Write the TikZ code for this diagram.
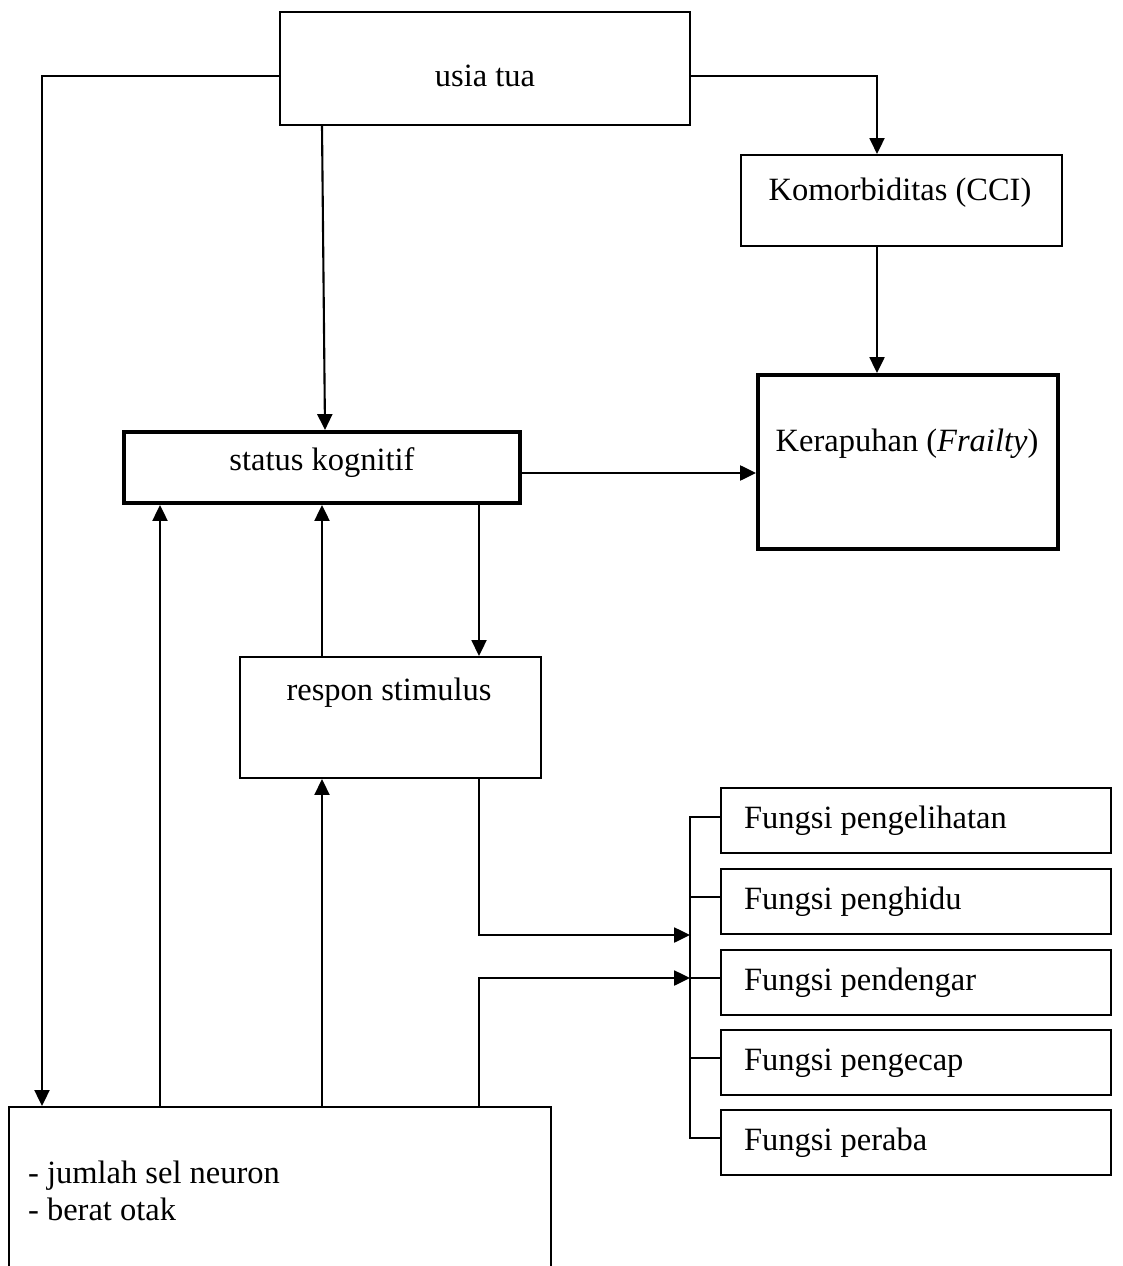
\documentclass[tikz,border=0pt]{standalone}
\usepackage{fontspec}
\setmainfont{Liberation Serif}
\usetikzlibrary{arrows.meta}

\begin{document}
\begin{tikzpicture}[x=0.02cm,y=-0.02cm,line width=1.2pt,
  box/.style={draw=black,inner sep=0pt},
  thickbox/.style={draw=black,inner sep=0pt,line width=2.3pt},
  txt/.style={anchor=base,inner sep=0pt},
  arr/.style={-{Triangle[length=9pt,width=8.5pt]}}]
\tikzstyle{every node}+=[font=\fontsize{18.5}{22}\selectfont]
\useasboundingbox (0,0) rectangle (1122,1266);
% boxes
\node [box,minimum width=8.2cm,minimum height=2.26cm] (usia) at (485,68.5) {};
\node [txt] (usiatxt) at (485,86.7) {usia tua};
\node [box,minimum width=6.42cm,minimum height=1.82cm] (komorbid) at (901.5,200.5) {};
\node [txt] (komorbidtxt) at (900,201) {Komorbiditas (CCI)};
\node [thickbox,minimum width=6.0cm,minimum height=3.48cm] (frailty) at (908,462) {};
\node [txt] (frailtytxt) at (907,452) {Kerapuhan (\textit{Frailty})};
\node [thickbox,minimum width=7.92cm,minimum height=1.42cm] (kognitif) at (322,467.5) {};
\node [txt] (kognitiftxt) at (322,470) {status kognitif};
\node [box,minimum width=6.02cm,minimum height=2.42cm] (respon) at (390.5,717.5) {};
\node [txt] (respontxt) at (389,700) {respon stimulus};
\node [box,minimum width=10.84cm,minimum height=3.26cm] (neuron) at (280,1188.5) {};
\node [txt,anchor=base west] (neurontxt1) at (27,1183) {- jumlah sel neuron};
\node [txt,anchor=base west] (neurontxt2) at (27,1220) {- berat otak};
% fungsi indera
\node [box,minimum width=7.8cm,minimum height=1.3cm] (fungsi1) at (916,820.5) {};
\node [txt,anchor=base west] (fungsitxt1) at (743,828) {Fungsi pengelihatan};
\node [box,minimum width=7.8cm,minimum height=1.3cm] (fungsi2) at (916,901.5) {};
\node [txt,anchor=base west] (fungsitxt2) at (743,909) {Fungsi penghidu};
\node [box,minimum width=7.8cm,minimum height=1.3cm] (fungsi3) at (916,982.5) {};
\node [txt,anchor=base west] (fungsitxt3) at (743,990) {Fungsi pendengar};
\node [box,minimum width=7.8cm,minimum height=1.3cm] (fungsi4) at (916,1062.5) {};
\node [txt,anchor=base west] (fungsitxt4) at (743,1070) {Fungsi pengecap};
\node [box,minimum width=7.8cm,minimum height=1.3cm] (fungsi5) at (916,1142.5) {};
\node [txt,anchor=base west] (fungsitxt5) at (743,1150) {Fungsi peraba};
% arrows
\draw [arr] (usia.west |- 0,76) -| (neuron.north -| 42,0);
\draw [arr] (usia.south -| 322,0) -- (kognitif.north -| 325,0);
\draw [arr] (usia.east |- 0,76) -| (komorbid.north -| 877,0);
\draw [arr] (komorbid.south -| 877,0) -- (frailty.north -| 877,0);
\draw [arr] (kognitif.east |- 0,473) -- (frailty.west |- 0,473);
\draw [arr] (kognitif.south -| 479,0) -- (respon.north -| 479,0);
\draw [arr] (respon.north -| 322,0) -- (kognitif.south -| 322,0);
\draw [arr] (neuron.north -| 160,0) -- (kognitif.south -| 160,0);
\draw [arr] (neuron.north -| 322,0) -- (respon.south -| 322,0);
\coordinate (in1) at (690,935);
\coordinate (in2) at (690,978);
\draw [arr] (respon.south -| 479,0) |- (in1);
\draw [arr] (neuron.north -| 479,0) |- (in2);
% bracket
\draw (fungsi1.west |- 0,817) -| (in1 |- 0,1138) -- (fungsi5.west |- 0,1138);
\draw (fungsi2.west |- 0,897) -- (in1 |- 0,897);
\draw (in2) -- (in2 -| fungsi3.west);
\draw (fungsi4.west |- 0,1058) -- (in1 |- 0,1058);
\end{tikzpicture}
\end{document}
